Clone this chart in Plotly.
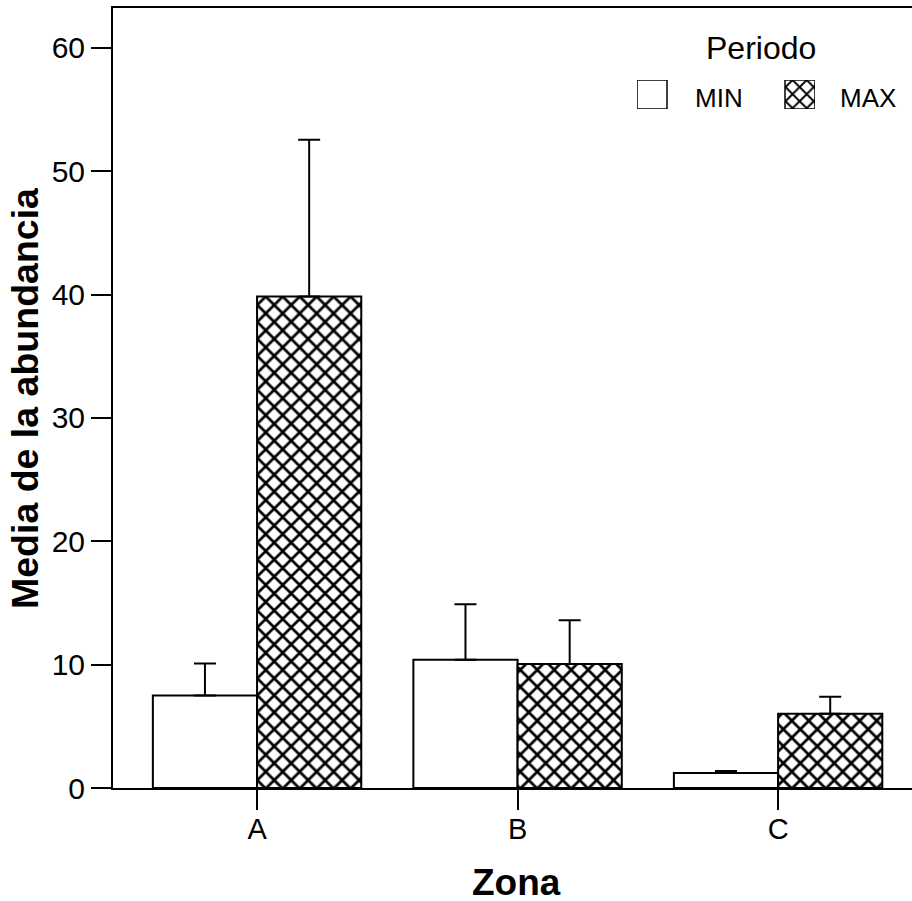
import plotly.graph_objects as go

zones = ["A", "B", "C"]
min_vals = [7.5, 10.4, 1.22]
min_err = [2.6, 4.5, 0.15]
max_vals = [39.85, 10.05, 6.02]
max_err = [12.7, 3.55, 1.38]
y_ticks = [0, 10, 20, 30, 40, 50, 60]
legend_labels = ["MIN", "MAX"]

FONT = "Liberation Sans, Arial, sans-serif"
BLACK = "#000000"

fig = go.Figure()
fig.add_trace(go.Bar(
    x=zones, y=min_vals, name="MIN", showlegend=False,
    marker=dict(color="white", line=dict(color=BLACK, width=2)),
    error_y=dict(type="data", array=min_err, arrayminus=[0]*3, symmetric=False,
                 color=BLACK, thickness=2, width=11),
))
fig.add_trace(go.Bar(
    x=zones, y=max_vals, name="MAX", showlegend=False,
    marker=dict(color="white", line=dict(color=BLACK, width=2),
                pattern=dict(shape="x", size=12, solidity=0.4, fgcolor=BLACK,
                             fgopacity=1, bgcolor="white")),
    error_y=dict(type="data", array=max_err, arrayminus=[0]*3, symmetric=False,
                 color=BLACK, thickness=2, width=11),
))

# legend swatches drawn on an overlay axis
fig.add_trace(go.Bar(
    x=[15, 163], y=[1, 1], width=[30, 30], xaxis="x2", yaxis="y2", showlegend=False,
    hoverinfo="skip",
    marker=dict(color="white", line=dict(color=BLACK, width=1.5),
                pattern=dict(shape=["", "x"], size=10, solidity=0.35, fgcolor=BLACK,
                             fgopacity=1, bgcolor="white")),
))

L, R, T, B = 113, 0, 8, 113
W, H = 912, 901
pw, ph = W - L - R, H - T - B

def px_x(p):
    return (p - L) / pw

def px_y(p):
    return (H - B - p) / ph

def ann(text, x, y, size, angle=0, **kw):
    return dict(text=text, x=px_x(x), y=px_y(y), xref="paper", yref="paper",
                xanchor="center", yanchor="middle", textangle=angle,
                showarrow=False, font=dict(size=size, family=FONT, color=BLACK), **kw)

fig.update_layout(
    width=W, height=H,
    margin=dict(l=L, r=R, t=T, b=B),
    paper_bgcolor="white", plot_bgcolor="white",
    barmode="group", bargap=0.2, bargroupgap=0,
    font=dict(family=FONT, color=BLACK),
    xaxis=dict(
        range=[-0.553, 2.514], showline=True, linecolor=BLACK, linewidth=2,
        mirror=True, ticks="outside", ticklen=20, tickwidth=2, tickcolor=BLACK,
        tickfont=dict(size=29, family=FONT), showgrid=False, zeroline=False,
        ticklabelstandoff=-6,
    ),
    yaxis=dict(
        range=[0, 63.24], tickvals=y_ticks, showline=True, linecolor=BLACK, linewidth=2,
        ticks="outside", ticklen=20, tickwidth=2, tickcolor=BLACK,
        tickfont=dict(size=30, family=FONT), showgrid=False, zeroline=False,
    ),
    xaxis2=dict(domain=[px_x(637), px_x(815)], range=[0, 178], anchor="y2",
                visible=False, fixedrange=True),
    yaxis2=dict(domain=[px_y(109), px_y(80)], range=[0, 1], anchor="x2",
                visible=False, fixedrange=True),
    annotations=[
        ann("Periodo", 761, 48, 32),
        ann(legend_labels[0], 718.5, 98, 26),
        ann(legend_labels[1], 868, 98, 26),
        ann("<b>Zona</b>", 516, 882, 37, height=34),
        ann("<b>Media de la abundancia</b>", 25, 398, 37.5, -90),
    ],
)

fig.write_html("out.html")
